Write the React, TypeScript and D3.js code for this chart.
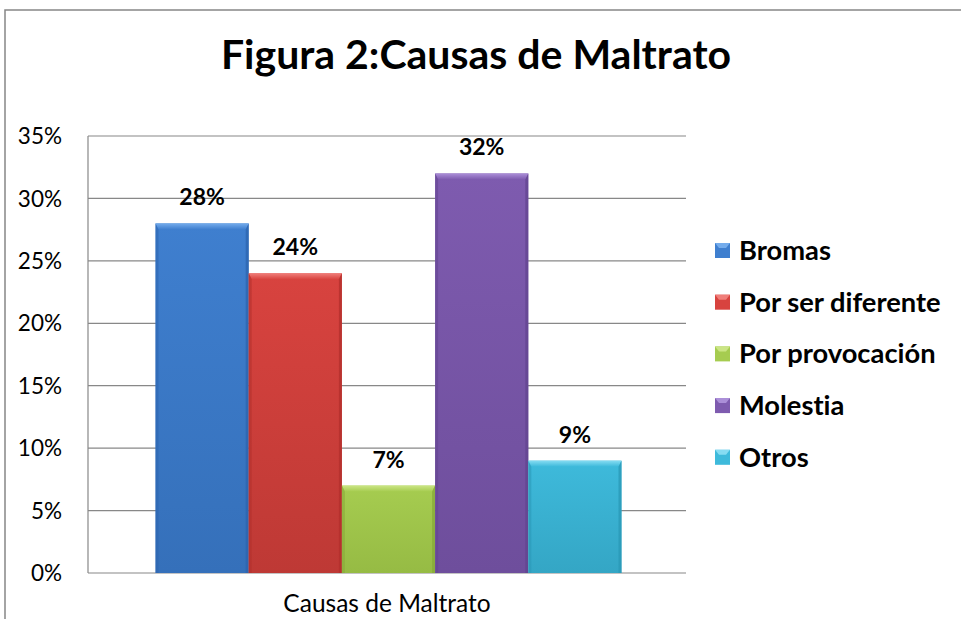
import React from "react";
import * as d3 from "d3";

const categories = ["Bromas", "Por ser diferente", "Por provocación", "Molestia", "Otros"];
const values = [0.28, 0.24, 0.07, 0.32, 0.09];
const labels = ["28%", "24%", "7%", "32%", "9%"];
const yTicks = [0, 0.05, 0.1, 0.15, 0.2, 0.25, 0.3, 0.35];
const xCategory = "Causas de Maltrato";
const title = "Figura 2:Causas de Maltrato";

const palette = [
  { main: "#3F7FCF", top: "#74ACEC", dark: "#2C64AE", bottom: "#3570BA" },
  { main: "#D8433F", top: "#F07E7A", dark: "#B12F2C", bottom: "#BE3935" },
  { main: "#A6CC50", top: "#CBE585", dark: "#86A838", bottom: "#96BB44" },
  { main: "#7E5BAF", top: "#AB8FD8", dark: "#62448F", bottom: "#6E4E9C" },
  { main: "#3EBADB", top: "#86DCF2", dark: "#2A98B6", bottom: "#34A6C5" },
];

const W = 961;
const H = 619;
const plot = { left: 88, right: 686, top: 136, bottom: 573 };
const FONT = "Lato, 'Open Sans', sans-serif";
const noLig = { fontVariantLigatures: "none" as const, fontFeatureSettings: "'liga' 0, 'dlig' 0" };

export default function App() {
  const y = d3.scaleLinear().domain([0, 0.35]).range([plot.bottom, plot.top]);
  const outer = d3.scaleBand<string>().domain([xCategory]).range([plot.left, plot.right]);
  const groupW = 466;
  const cx = (outer(xCategory) ?? 0) + outer.bandwidth() / 2 + 1.5;
  const x = d3
    .scaleBand<string>()
    .domain(categories)
    .range([cx - groupW / 2, cx + groupW / 2])
    .padding(0);
  const fmt = d3.format(".0%");

  return (
    <svg width={W} height={H} style={{ position: "absolute", left: 0, top: 0, display: "block", ...noLig }}>
      <defs>
        {palette.map((p, i) => (
          <React.Fragment key={i}>
            <linearGradient id={`body${i}`} x1="0" y1="0" x2="0" y2="1">
              <stop offset="0%" stopColor={p.main} />
              <stop offset="100%" stopColor={p.bottom} />
            </linearGradient>
            <linearGradient id={`top${i}`} x1="0" y1="0" x2="0" y2="1">
              <stop offset="0%" stopColor={p.top} />
              <stop offset="100%" stopColor={p.main} />
            </linearGradient>
          </React.Fragment>
        ))}
      </defs>
      <rect x={0} y={0} width={W} height={H} fill="#fff" />
      <rect x={5} y={10} width={W + 20} height={H + 20} fill="#fff" stroke="#868686" strokeWidth={1.5} />

      <text
        x={476}
        y={69}
        textAnchor="middle"
        fontFamily={FONT}
        fontWeight="bold"
        fontSize={41}
        fill="#000"
        style={noLig}
      >
        {title}
      </text>

      {/* gridlines */}
      {yTicks.map((t) => (
        <line
          key={t}
          x1={plot.left}
          x2={plot.right}
          y1={y(t)}
          y2={y(t)}
          stroke="#888"
          strokeWidth={1.2}
        />
      ))}
      <line x1={plot.left} x2={plot.left} y1={plot.top} y2={plot.bottom} stroke="#888" strokeWidth={1.2} />

      {yTicks.map((t) => (
        <text
          key={"l" + t}
          x={62}
          y={y(t)}
          dy="0.36em"
          textAnchor="end"
          fontFamily={FONT}
          fontSize={22.5}
          fill="#000"
        >
          {fmt(t)}
        </text>
      ))}

      {/* bars */}
      {categories.map((c, i) => {
        const x0 = x(c) ?? 0;
        const w = x.bandwidth();
        const y0 = y(values[i]);
        const y1 = y(0);
        const p = palette[i];
        const bt = 6;
        const bs = 3;
        return (
          <g key={c}>
            <rect x={x0} y={y0} width={w} height={y1 - y0} fill={`url(#body${i})`} />
            <polygon
              points={`${x0},${y0} ${x0 + w},${y0} ${x0 + w - bs},${y0 + bt} ${x0 + bs},${y0 + bt}`}
              fill={`url(#top${i})`}
            />
            <polygon
              points={`${x0},${y0} ${x0 + bs},${y0 + bt} ${x0 + bs},${y1} ${x0},${y1}`}
              fill={p.dark}
              opacity={0.55}
            />
            <polygon
              points={`${x0 + w},${y0} ${x0 + w - bs},${y0 + bt} ${x0 + w - bs},${y1} ${x0 + w},${y1}`}
              fill={p.dark}
              opacity={0.75}
            />
            <text
              x={x0 + w / 2}
              y={y0 - 18}
              textAnchor="middle"
              fontFamily={FONT}
              fontWeight="bold"
              fontSize={23}
              fill="#000"
            >
              {labels[i]}
            </text>
          </g>
        );
      })}

      <text
        x={cx - 1.5}
        y={612}
        textAnchor="middle"
        fontFamily={FONT}
        fontSize={24.5}
        fill="#000"
      >
        {xCategory}
      </text>

      {/* legend */}
      {categories.map((c, i) => {
        const ly = 250 + i * 51.7;
        const p = palette[i];
        return (
          <g key={"lg" + c}>
            <rect x={715} y={ly - 7} width={15} height={15} fill={p.main} />
            <polygon
              points={`${715},${ly - 7} ${730},${ly - 7} ${726},${ly - 2} ${719},${ly - 2}`}
              fill={p.top}
            />
            <text
              x={739}
              y={ly}
              dy="0.36em"
              fontFamily={FONT}
              fontWeight="bold"
              fontSize={27.3}
              fill="#000"
              style={noLig}
            >
              {c}
            </text>
          </g>
        );
      })}
    </svg>
  );
}
